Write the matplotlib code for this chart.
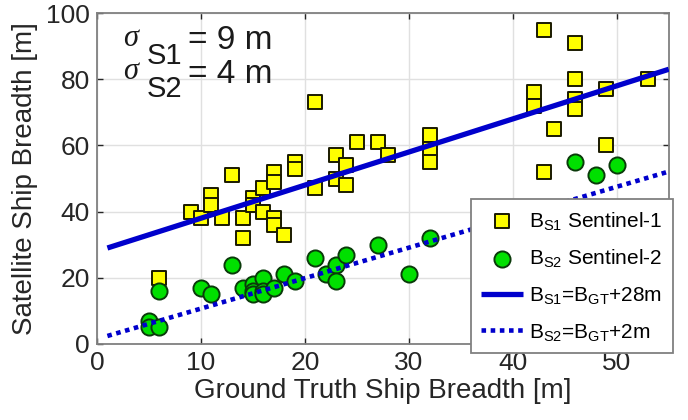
import numpy as np
from matplotlib import pyplot as plt

plt.rcParams["font.family"] = ["Liberation Sans", "DejaVu Sans"]
plt.rcParams["mathtext.fontset"] = "custom"
plt.rcParams["mathtext.rm"] = "Liberation Sans"
plt.rcParams["mathtext.it"] = "Liberation Serif:italic"

# Sentinel-1 ship breadth vs ground truth
s1_gt = [6, 9, 10, 11, 11, 12, 13, 14, 14, 15, 15, 16, 16, 17, 17, 17, 17, 18,
         19, 19, 21, 21, 23, 23, 24, 24, 25, 27, 28, 32, 32, 32,
         42, 42, 43, 43, 44, 46, 46, 46, 46, 49, 49, 53]
s1_sat = [20, 40, 38, 45, 42, 38, 51, 38, 32, 44, 42, 47, 40, 52, 49, 38, 36, 33,
          55, 53, 73, 47, 57, 50, 54, 48, 61, 61, 57, 63, 59, 55,
          76, 72, 95, 52, 65, 91, 80, 74, 71, 77, 60, 80]

# Sentinel-2 ship breadth vs ground truth
s2_gt = [5, 5, 6, 6, 10, 11, 13, 14, 15, 15, 15, 16, 16, 16, 17, 18, 19,
         21, 22, 23, 23, 24, 27, 30, 32, 46, 48, 50]
s2_sat = [7, 5, 5, 16, 17, 15, 24, 17, 18, 16, 15, 20, 16, 15, 17, 21, 19,
          26, 21, 24, 19, 27, 30, 21, 32, 55, 51, 54]

# fitted lines (slope, offset)
fit_x = [1, 55]
fit_s1 = (1.0, 28.0)
fit_s2 = (0.92, 1.5)

fig = plt.figure(figsize=(6.88, 4.2), dpi=100)
ax = fig.add_axes([0.141, 0.181, 0.831, 0.788])

ax.grid(True, color="#e0e0e0", linewidth=1.0)
ax.set_axisbelow(True)

ax.scatter(s1_gt, s1_sat, marker="s", s=105, facecolor="#ffff00",
           edgecolor="#1a1a00", linewidth=1.4, zorder=3,
           label=r"B$_{\rm S1}$ Sentinel-1")
ax.scatter(s2_gt, s2_sat, marker="o", s=135, facecolor="#00e000",
           edgecolor="#0a3a0a", linewidth=1.4, zorder=3,
           label=r"B$_{\rm S2}$ Sentinel-2")

xx = np.array(fit_x)
ax.plot(xx, fit_s1[0] * xx + fit_s1[1], color="#0000cc", linewidth=3.8,
        solid_capstyle="butt", zorder=4,
        label=r"B$_{\rm S1}$=B$_{\rm GT}$+28m")
ax.plot(xx, fit_s2[0] * xx + fit_s2[1], color="#0000cc", linewidth=3.3,
        linestyle=(0, (1, 1)), zorder=4,
        label=r"B$_{\rm S2}$=B$_{\rm GT}$+2m")

# sigma annotations, built from pieces so the subscript stays large
for y0, sub, val in [(89, "S1", "= 9 m"), (79, "S2", "= 4 m")]:
    ax.text(2.5, y0 + 1, r"$\sigma$", fontsize=22, color="#1a1a1a")
    ax.text(4.8, y0 - 4.5, sub, fontsize=21, color="#1a1a1a")
    ax.text(8.8, y0, val, fontsize=24, color="#1a1a1a")

ax.set_xlim(0, 55)
ax.set_ylim(0, 100)
ax.set_xticks([0, 10, 20, 30, 40, 50])
ax.set_yticks([0, 20, 40, 60, 80, 100])
ax.tick_params(direction="in", length=4, width=1, colors="#262626",
               labelsize=19, top=True, right=True, pad=5)
for sp in ax.spines.values():
    sp.set_color("#808080")
    sp.set_linewidth(1.3)

ax.set_xlabel("Ground Truth Ship Breadth [m]", fontsize=20, color="#262626",
              labelpad=2)
ax.set_ylabel("Satellite Ship Breadth [m]", fontsize=20, color="#262626",
              labelpad=6)

leg = ax.legend(loc="lower right", bbox_to_anchor=(673 / 688, 1 - 353 / 420),
                bbox_transform=fig.transFigure, borderaxespad=0,
                fontsize=15, fancybox=False, framealpha=1, edgecolor="#808080",
                handlelength=2.0, handletextpad=0.3, labelspacing=0.75,
                borderpad=0.5)
leg.get_frame().set_linewidth(1.3)

fig.savefig("out.png", dpi=100)
